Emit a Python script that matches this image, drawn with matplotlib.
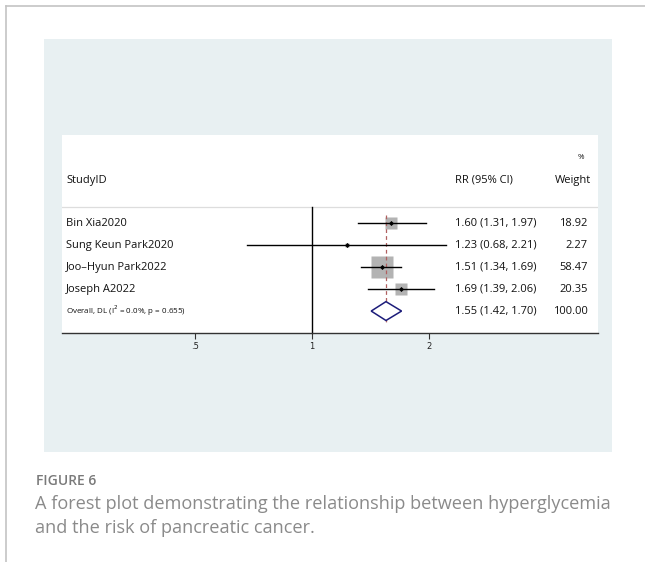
import numpy as np
import matplotlib
matplotlib.use("Agg")
import matplotlib.pyplot as plt
import matplotlib.transforms as mtransforms
from matplotlib.patches import Rectangle, Polygon
from matplotlib.lines import Line2D

# forest plot data
studies = ["Bin Xia2020", "Sung Keun Park2020", "Joo\u2013Hyun Park2022", "Joseph A2022"]
rr = [1.60, 1.23, 1.51, 1.69]
lo = [1.31, 0.68, 1.34, 1.39]
hi = [1.97, 2.21, 1.69, 2.06]
weight = [18.92, 2.27, 58.47, 20.35]
pooled = [1.55, 1.42, 1.70]  # estimate, lower, upper
pooled_weight = 100.00
pooled_label = "Overall, DL (I$^2$ = 0.0%, p = 0.655)"
xticks = [0.5, 1, 2]
xticklabels = [".5", "1", "2"]

W, H = 645, 562
fig = plt.figure(figsize=(W / 100, H / 100), dpi=100)
fig.patch.set_facecolor("white")

def px(x0, y0, x1, y1):
    # pixel box -> figure fraction [left, bottom, width, height]
    return [x0 / W, 1 - y1 / H, (x1 - x0) / W, (y1 - y0) / H]

# page frame and light panel
fig.add_artist(Line2D([6.3 / W, 6.3 / W], [0, 1 - 6.3 / H], color="#c4c4c4", lw=1.2))
fig.add_artist(Line2D([6.3 / W, 1], [1 - 6.3 / H, 1 - 6.3 / H], color="#c4c4c4", lw=1.2))
l, b, w, h = px(44, 39, 612, 452)
fig.add_artist(Rectangle((l, b), w, h, transform=fig.transFigure,
                         facecolor="#e8f0f2", edgecolor="none", zorder=0))

ax = fig.add_axes(px(62, 135.5, 598, 333))
ax.set_facecolor("white")
ax.set_xscale("log")
ax.set_xlim(2 ** (-250 / 117), 2 ** (286 / 117))
ax.set_ylim(5, -4)
for s in ["top", "right", "left"]:
    ax.spines[s].set_visible(False)
ax.spines["bottom"].set_color("#333333")
ax.spines["bottom"].set_linewidth(1.0)
ax.set_yticks([])
ax.set_xticks(xticks)
ax.set_xticklabels(xticklabels)
ax.xaxis.set_minor_locator(matplotlib.ticker.NullLocator())
ax.tick_params(axis="x", length=4, width=0.8, color="#333333", pad=2.5,
               labelsize=6, labelcolor="#222222")

font = "Open Sans"
fs = 8.0
tc = "#111111"
trans = mtransforms.blended_transform_factory(ax.transAxes, ax.transData)

# header
ax.axhline(-0.73, color="#dddddd", lw=0.9)
ax.text(0.0075, -1.95, "StudyID", transform=trans, fontsize=fs, family=font,
        va="center", ha="left", color=tc)
ax.text(0.733, -1.95, "RR (95% CI)", transform=trans, fontsize=fs, family=font,
        va="center", ha="left", color=tc)
ax.text(0.987, -1.95, "Weight", transform=trans, fontsize=fs, family=font,
        va="center", ha="right", color=tc)
ax.text(0.968, -3.0, "%", transform=trans, fontsize=5.8, family=font,
        va="center", ha="center", color=tc)

# null line
ax.plot([1, 1], [-0.73, 5], color="black", lw=1.0, zorder=2, clip_on=False)
# pooled estimate line
ax.plot([pooled[0], pooled[0]], [-0.4, 4.55], color="#b06060", lw=0.9,
        ls=(0, (3, 2.5)), zorder=4)

rows = np.arange(len(studies))
box_max = 22 * 0.72  # side in points of the heaviest study
for i in rows:
    side = box_max * np.sqrt(weight[i] / max(weight))
    ax.plot([lo[i], hi[i]], [i, i], color="black", lw=1.0, zorder=5)
    ax.plot(rr[i], i, marker="s", ms=side, color="#b3b3b3", mec="none", zorder=3)
    ax.plot(rr[i], i, marker="D", ms=2.6, color="black", mec="none", zorder=6)
    ax.text(0.0075, i, studies[i], transform=trans, fontsize=fs, family=font,
            va="center", ha="left", color=tc)
    ax.text(0.733, i, f"{rr[i]:.2f} ({lo[i]:.2f}, {hi[i]:.2f})", transform=trans,
            fontsize=fs, family=font, va="center", ha="left", color=tc)
    ax.text(0.981, i, f"{weight[i]:.2f}", transform=trans, fontsize=fs,
            family=font, va="center", ha="right", color=tc)

# pooled diamond
yp = len(studies)
dh = 0.43
ax.add_patch(Polygon([(pooled[1], yp), (pooled[0], yp - dh), (pooled[2], yp),
                      (pooled[0], yp + dh)], closed=True, facecolor="white",
                     edgecolor="#1c1c7a", lw=1.1, zorder=5))
ax.text(0.0075, yp, pooled_label, transform=trans, fontsize=5.8, family=font,
        va="center", ha="left", color=tc)
ax.text(0.733, yp, f"{pooled[0]:.2f} ({pooled[1]:.2f}, {pooled[2]:.2f})",
        transform=trans, fontsize=fs, family=font, va="center", ha="left",
        color=tc)
ax.text(0.981, yp, f"{pooled_weight:.2f}", transform=trans, fontsize=fs,
        family=font, va="center", ha="right", color=tc)

# caption
fig.text(36 / W, 1 - 481 / H, "FIGURE 6", fontsize=10, family=font,
         fontweight="semibold", color="#7a7a7a", va="center", ha="left")
fig.text(35 / W, 1 - 504 / H,
         "A forest plot demonstrating the relationship between hyperglycemia",
         fontsize=13.1, family=font, color="#8a8a8a", va="center", ha="left")
fig.text(35 / W, 1 - 528 / H, "and the risk of pancreatic cancer.",
         fontsize=13.1, family=font, color="#8a8a8a", va="center", ha="left")

fig.savefig("out.png", dpi=100)
